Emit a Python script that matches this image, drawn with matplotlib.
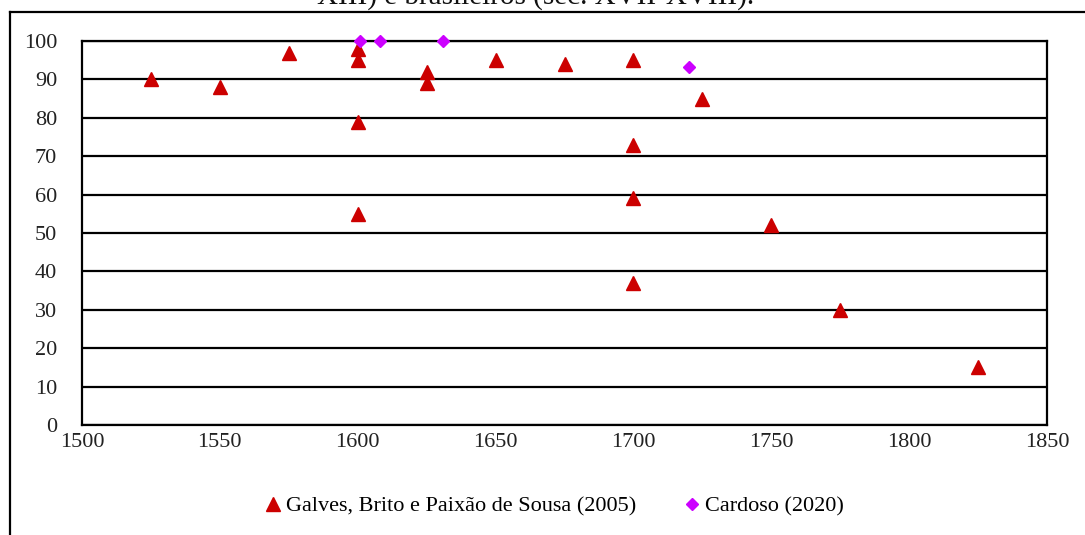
import matplotlib
matplotlib.use("Agg")
import matplotlib.pyplot as plt
from matplotlib.lines import Line2D

plt.rcParams['font.family'] = ['Liberation Serif', 'DejaVu Serif']

# Data
galves_years = [1525, 1550, 1575, 1600, 1600, 1600, 1600, 1625, 1625, 1650, 1675,
                1700, 1700, 1700, 1700, 1725, 1750, 1775, 1825]
galves_values = [90, 88, 97, 98, 95, 79, 55, 92, 89, 95, 94,
                 95, 73, 59, 37, 85, 52, 30, 15]
cardoso_years = [1601, 1608, 1631, 1720]
cardoso_values = [100, 100, 100, 93.3]
x_ticks = [1500, 1550, 1600, 1650, 1700, 1750, 1800, 1850]
y_ticks = [0, 10, 20, 30, 40, 50, 60, 70, 80, 90, 100]
title_tail = "XIII) e brasileiros (séc. XVII-XVIII)."
labels = ["Galves, Brito e Paixão de Sousa (2005)", "Cardoso (2020)"]

W, H = 1085, 535
fig = plt.figure(figsize=(W / 100, H / 100), dpi=100)
ax = fig.add_axes([82 / W, 1 - 425 / H, (1047 - 82) / W, (425 - 41) / H])

ax.plot(galves_years, galves_values, linestyle='none', marker='^', ms=10,
        color='#CC0000', clip_on=False, zorder=3, label=labels[0])
ax.plot(cardoso_years, cardoso_values, linestyle='none', marker='D', ms=6.5,
        color='#CC00FF', clip_on=False, zorder=4, label=labels[1])

ax.set_xlim(1500, 1850)
ax.set_ylim(0, 100)
ax.set_xticks(x_ticks)
ax.set_yticks(y_ticks)
ax.yaxis.grid(True, color='black', linewidth=1.6)
ax.set_axisbelow(True)
for s in ax.spines.values():
    s.set_color('black')
    s.set_linewidth(1.6)
ax.tick_params(axis='both', length=0, labelsize=16, colors='#222222')
ax.tick_params(axis='y', pad=18)
ax.tick_params(axis='x', pad=6)

# outer chart frame
fig.add_artist(Line2D([9.5 / W, 9.5 / W], [0, 1 - 12 / H], transform=fig.transFigure,
                      color='black', linewidth=1.6))
fig.add_artist(Line2D([9.5 / W, 1], [1 - 12 / H, 1 - 12 / H], transform=fig.transFigure,
                      color='black', linewidth=1.6))

# cut-off title (reference shows only its lower part)
fig.text(536 / W, 1 - 4 / H, title_tail, ha='center', va='baseline', fontsize=21,
         color='#111111')

leg = fig.legend(loc='center', bbox_to_anchor=(555 / W, 1 - 506 / H), ncol=2,
                 frameon=False, fontsize=16, handlelength=0.6, handletextpad=0.3,
                 columnspacing=2.2)

fig.savefig("out.png", dpi=100)
